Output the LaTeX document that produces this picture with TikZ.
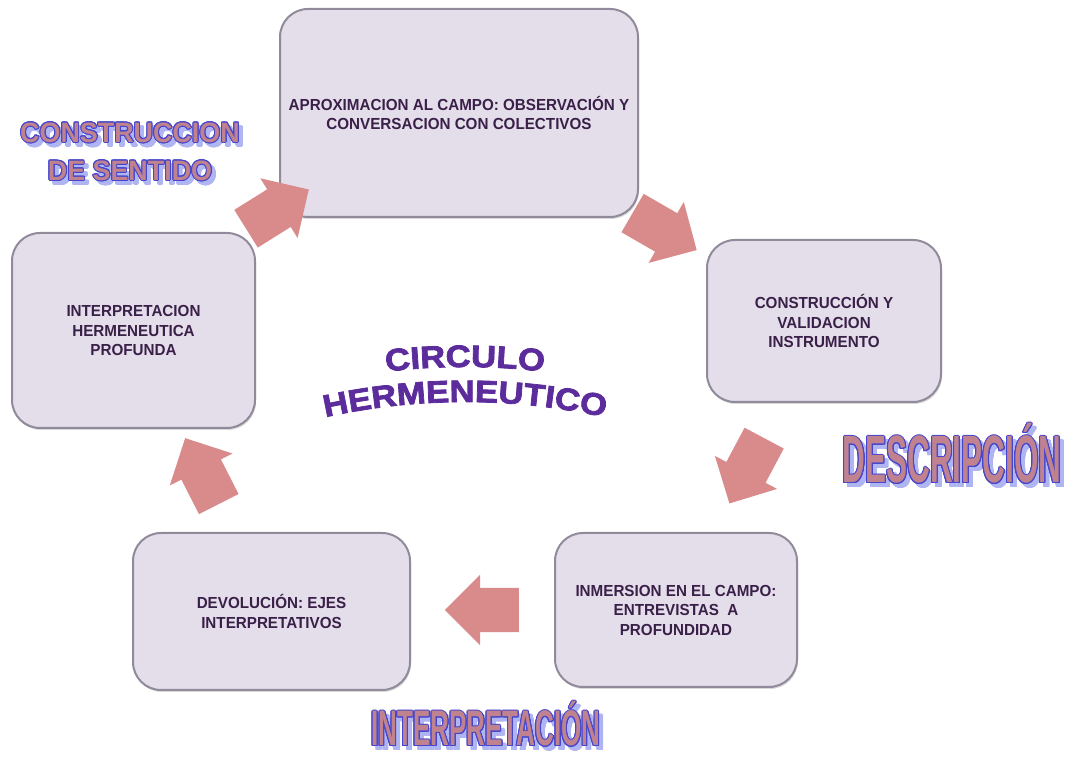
\documentclass[tikz,border=0pt]{standalone}
\usepackage{fontspec}
\usepackage[copies]{contour}
\usetikzlibrary{shapes.arrows,shadows,decorations.text}
\setmainfont{Liberation Sans}
\newfontfamily\boxfont[FakeStretch=0.95]{Liberation Sans}
\newfontfamily\wordfont[FakeStretch=0.96]{Liberation Sans}
\newfontfamily\descfont[FakeStretch=0.47]{Liberation Sans}
\newfontfamily\interfont[FakeStretch=0.52]{Liberation Sans}
\newfontfamily\circfont[FakeStretch=1.12,FakeBold=2.5]{Liberation Sans}
\definecolor{hcbox}{RGB}{228,222,235}
\definecolor{hcedge}{RGB}{145,138,155}
\definecolor{hctext}{RGB}{58,32,72}
\definecolor{hcarrow}{RGB}{217,139,139}
\definecolor{hcfill}{RGB}{192,130,142}
\definecolor{hcblue}{RGB}{70,70,205}
\definecolor{hcshadow}{RGB}{175,180,242}
\definecolor{hcpurple}{RGB}{92,44,156}
\contourlength{1pt}

\begin{document}
\begin{tikzpicture}[x=1pt,y=1pt,
  stagebox/.style={draw=hcedge, line width=2pt, fill=hcbox, rounded corners=28pt,
    drop shadow={shadow xshift=1pt, shadow yshift=-2pt, opacity=0.3},
    text=hctext, align=center, font=\boxfont\bfseries\fontsize{16}{19.5}\selectfont},
  flowarrow/.style={single arrow, fill=hcarrow, minimum height=74pt,
    inner xsep=0pt, inner ysep=22pt,
    single arrow head extend=13pt, single arrow tip angle=90},
  phase/.style={inner sep=0pt, anchor=base}]
\useasboundingbox (0,0) rectangle (1076,757);
% Stages of the cycle
\node[stagebox, minimum width=358pt, minimum height=208pt] (aprox) at (459,644)
  {APROXIMACION AL CAMPO: OBSERVACIÓN Y\\CONVERSACION CON COLECTIVOS};
\node[stagebox, minimum width=234pt, minimum height=162pt] (constr) at (824,436)
  {CONSTRUCCIÓN Y\\VALIDACION\\INSTRUMENTO};
\node[stagebox, minimum width=242pt, minimum height=154pt] (inmer) at (676,147)
  {INMERSION EN EL CAMPO:\\ENTREVISTAS~ A\\PROFUNDIDAD};
\node[stagebox, minimum width=277pt, minimum height=157pt] (devol) at (271.5,145.5)
  {DEVOLUCIÓN: EJES\\INTERPRETATIVOS};
\node[stagebox, minimum width=243pt, minimum height=195pt] (interp) at (133.5,426.5)
  {INTERPRETACION\\HERMENEUTICA\\PROFUNDA};
% Block arrows between stages
\node[flowarrow, rotate=32] (f1) at (268,542) {};
\node[flowarrow, rotate=-30] (f2) at (655,531) {};
\node[flowarrow, rotate=-118] (f3) at (752,296) {};
\node[flowarrow, rotate=180] (f4) at (493,147) {};
\node[flowarrow, rotate=117] (f5) at (207,276) {};
% Phase labels (shadow first)
\node[font=\wordfont\bfseries\fontsize{28}{38}\selectfont, align=center, text=hcshadow, inner sep=0pt] (sent-sh) at (134,601)
  {\contour{hcshadow}{CONSTRUCCION}\\\contour{hcshadow}{DE SENTIDO}};
\node[font=\wordfont\bfseries\fontsize{28}{38}\selectfont, align=center, text=hcfill, inner sep=0pt] (sent) at (130,605)
  {\contour{hcblue}{CONSTRUCCION}\\\contour{hcblue}{DE SENTIDO}};
\node[phase, font=\descfont\bfseries\fontsize{67}{67}\selectfont, text=hcshadow] (desc-sh) at (956,270)
  {\contour{hcshadow}{DESCRIPCIÓN}};
\node[phase, font=\descfont\bfseries\fontsize{67}{67}\selectfont, text=hcfill] (desc) at (952,274)
  {\contour{hcblue}{DESCRIPCIÓN}};
\node[phase, font=\interfont\bfseries\fontsize{50}{50}\selectfont, text=hcshadow] (inter-sh) at (490,7)
  {\contour{hcshadow}{INTERPRETACIÓN}};
\node[phase, font=\interfont\bfseries\fontsize{50}{50}\selectfont, text=hcfill] (inter) at (486,11)
  {\contour{hcblue}{INTERPRETACIÓN}};
% Arched title
\path[decorate, decoration={text along path, text align=center,
  text={|\circfont\bfseries\fontsize{31}{31}\selectfont\color{hcpurple}|CIRCULO}}]
  ([shift={(465,-295)}]100:685) arc[start angle=100, end angle=80, radius=685];
\path[decorate, decoration={text along path, text align=center,
  text={|\circfont\bfseries\fontsize{31}{31}\selectfont\color{hcpurple}|HERMENEUTICO}}]
  ([shift={(465,-295)}]105:650) arc[start angle=105, end angle=75, radius=650];
\end{tikzpicture}
\end{document}
